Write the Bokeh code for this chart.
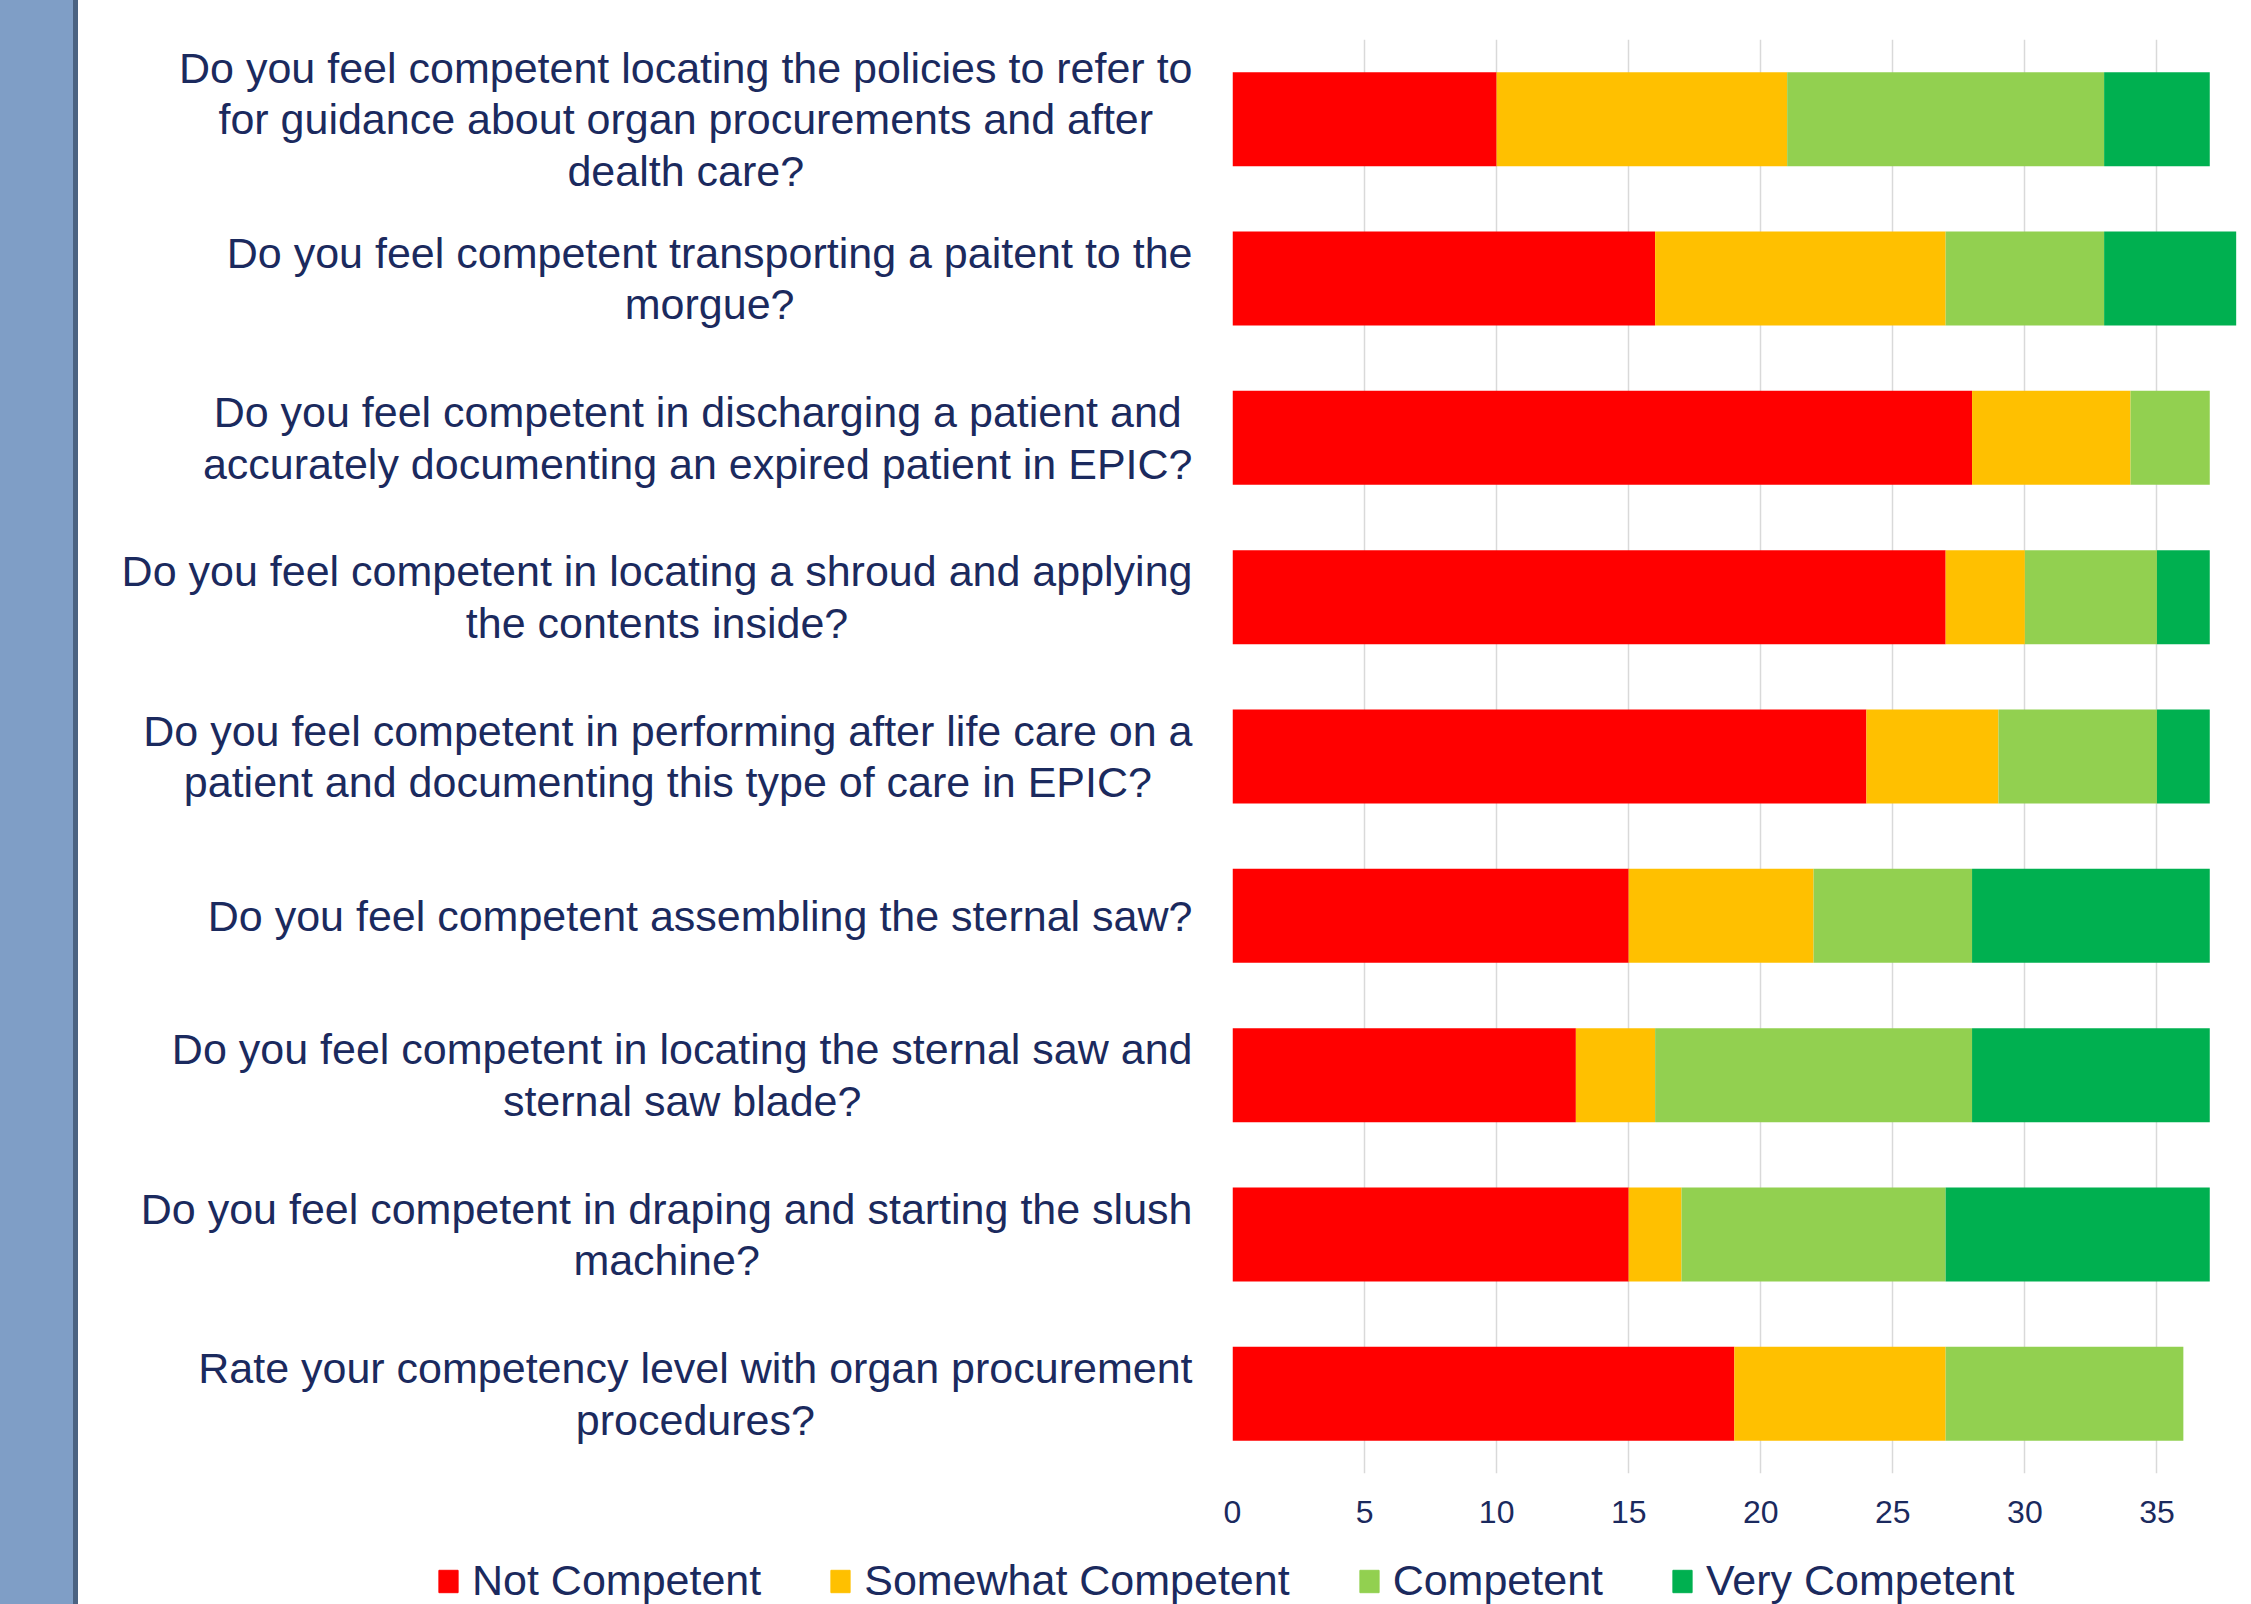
from bokeh.plotting import figure
from bokeh.models import (Range1d, FactorRange, FixedTicker, Label, Legend,
                          LegendItem, ColumnDataSource, Div)
from bokeh.layouts import row, column
from bokeh.embed import file_html
from bokeh.resources import INLINE

# ---------------- data ----------------
questions = [
    "Do you feel competent locating the policies to refer to\nfor guidance about organ procurements and after\ndealth care?",
    "Do you feel competent transporting a paitent to the\nmorgue?",
    "Do you feel competent in discharging a patient and\naccurately documenting an expired patient in EPIC?",
    "Do you feel competent in locating a shroud and applying\nthe contents inside?",
    "Do you feel competent in performing after life care on a\npatient and documenting this type of care in EPIC?",
    "Do you feel competent assembling the sternal saw?",
    "Do you feel competent in locating the sternal saw and\nsternal saw blade?",
    "Do you feel competent in draping and starting the slush\nmachine?",
    "Rate your competency level with organ procurement\nprocedures?",
]
series_names = ["Not Competent", "Somewhat Competent", "Competent", "Very Competent"]
not_competent = [10, 16, 28, 27, 24, 15, 13, 15, 19]
somewhat_competent = [11, 11, 6, 3, 5, 7, 3, 2, 8]
competent = [12, 6, 3, 5, 6, 6, 12, 10, 9]
very_competent = [4, 5, 0, 2, 2, 9, 9, 10, 0]
x_ticks = [0, 5, 10, 15, 20, 25, 30, 35]

# ---------------- style ----------------
COLORS = ["#FF0000", "#FFC000", "#92D050", "#00B050"]
NAVY = "#1B2A5E"
FONT = "Liberation Sans"
STRIP = "#7F9EC6"
STRIP_EDGE = "#4B6382"

keys = ["nc", "sc", "c", "vc"]
source = ColumnDataSource(dict(q=questions, nc=not_competent, sc=somewhat_competent,
                               c=competent, vc=very_competent))
factors = list(reversed(questions))
y_range = FactorRange(factors=factors)

TOP_H = 1540

# left decorative strip
strip = Div(width=78, height=1604, text="",
            styles={"background": f"linear-gradient(to right, {STRIP} 73px, {STRIP_EDGE} 73px)",
                    "margin": "0", "padding": "0"})

# category label panel
lab = figure(width=1134, height=TOP_H, y_range=y_range, x_range=Range1d(0, 1134),
             output_backend="svg", toolbar_location=None, min_border=0)
lab.axis.visible = False
lab.grid.visible = False
lab.outline_line_color = None
ypos = {f: k + 0.5 for k, f in enumerate(factors)}
for q in questions:
    lab.add_layout(Label(x=1114, y=ypos[q], text=q, anchor="center_right",
                         text_align="center", text_baseline="middle", text_font=FONT,
                         text_font_size="43px", text_color=NAVY, text_line_height=1.07))

# main chart
p = figure(width=1039, height=TOP_H, y_range=y_range, x_range=Range1d(0, 38.58),
           output_backend="svg", toolbar_location=None,
           min_border_left=20, min_border_right=0, min_border_top=39, min_border_bottom=67)
p.outline_line_color = None
renderers = p.hbar_stack(keys, y="q", height=0.59, color=COLORS, source=source, line_width=0)
p.yaxis.visible = False
p.ygrid.visible = False
p.xaxis.ticker = FixedTicker(ticks=x_ticks)
p.xgrid.ticker = FixedTicker(ticks=x_ticks)
p.xgrid.grid_line_color = "#D9D9D9"
p.xgrid.grid_line_width = 1.5
p.xaxis.axis_line_color = None
p.xaxis.major_tick_line_color = None
p.xaxis.minor_tick_line_color = None
p.xaxis.major_tick_out = 0
p.xaxis.major_label_standoff = 27
p.xaxis.major_label_text_font = FONT
p.xaxis.major_label_text_font_size = "32px"
p.xaxis.major_label_text_color = NAVY

# legend panel (swatch renderers sit outside the visible range)
lf = figure(width=2173, height=1604 - TOP_H, x_range=Range1d(0, 2173), y_range=Range1d(0, 64),
            output_backend="svg", toolbar_location=None, min_border=0)
lf.axis.visible = False
lf.grid.visible = False
lf.outline_line_color = None
swatches = [lf.hbar(y=[-1000], right=[1], height=1, color=c) for c in COLORS]
legend = Legend(items=[LegendItem(label=n, renderers=[r]) for n, r in zip(series_names, swatches)],
                location=(358, -1), orientation="horizontal", padding=0, margin=0,
                spacing=67, label_standoff=12, glyph_width=24, glyph_height=28, label_height=48,
                label_text_font=FONT, label_text_font_size="43px", label_text_color=NAVY,
                border_line_color=None, background_fill_alpha=0)
lf.add_layout(legend, "center")

layout = row(strip, column(row(lab, p, spacing=0), lf, spacing=0), spacing=0)
open("out.html", "w").write(file_html(layout, INLINE))
